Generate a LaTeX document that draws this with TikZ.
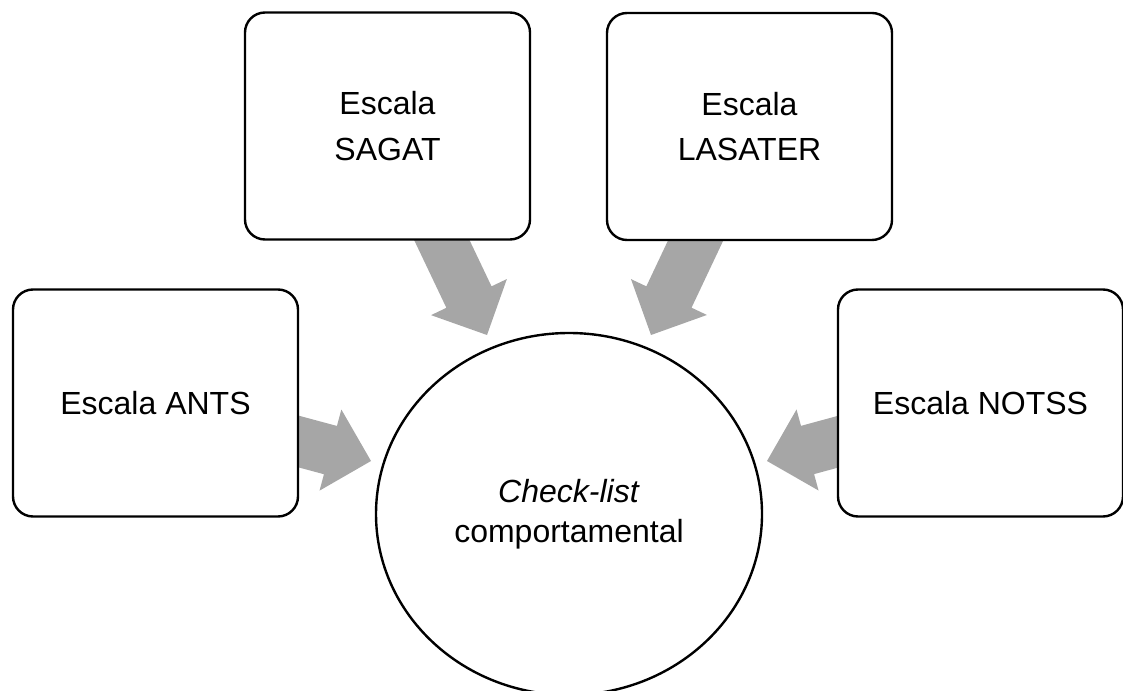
\documentclass[tikz,border=0pt]{standalone}
\usepackage{fontspec}
\setmainfont{Liberation Sans}
\usetikzlibrary{shapes.geometric,calc}
\pgfdeclarelayer{bg}
\pgfsetlayers{bg,main}
\definecolor{arrowfill}{HTML}{A6A6A6}
\newcommand\myblockarrow[3]{%
  \coordinate (#3) at ($(#2)!31.5pt!(#1)$);
  \fill[arrowfill] ($(#1)!18.75pt!90:(#2)$) -- ($(#3)!18.75pt!90:(#2)$) -- ($(#3)!31.5pt!90:(#2)$)
    -- (#2) -- ($(#3)!31.5pt!-90:(#2)$) -- ($(#3)!18.75pt!-90:(#2)$) -- ($(#1)!18.75pt!-90:(#2)$) -- cycle;}
\begin{document}
\begin{tikzpicture}[x=0.75pt,y=-0.75pt,
  box/.style={draw=black, line width=1.8pt, fill=white, rounded corners=15pt,
    minimum width=213.75pt, minimum height=170.25pt, align=center, inner sep=0pt,
    font=\fontsize{24}{34}\selectfont},
  hub/.style={ellipse, draw=black, line width=1.8pt, fill=white, minimum width=289.5pt,
    minimum height=271.5pt, inner sep=0pt, align=center, font=\fontsize{24}{30}\selectfont}]
\clip (0,0) rectangle (1123,691);
\node[box] (ants) at (155.5,403) {Escala ANTS};
\node[box] (sagat) at (387.5,126) {Escala\\SAGAT};
\node[box] (lasater) at (749.5,126.5) {Escala\\LASATER};
\node[box] (notss) at (980.5,403) {Escala NOTSS};
\node[hub] (chk) at (569,514) {\textit{Check-list}\\comportamental};
\coordinate (tA) at (371,461);
\coordinate (tS) at (487,335);
\coordinate (tL) at (651,335);
\coordinate (tN) at (767,461);
\begin{pgfonlayer}{bg}
\myblockarrow{ants.center}{tA}{hA}
\myblockarrow{sagat.center}{tS}{hS}
\myblockarrow{lasater.center}{tL}{hL}
\myblockarrow{notss.center}{tN}{hN}
\end{pgfonlayer}
\end{tikzpicture}
\end{document}
